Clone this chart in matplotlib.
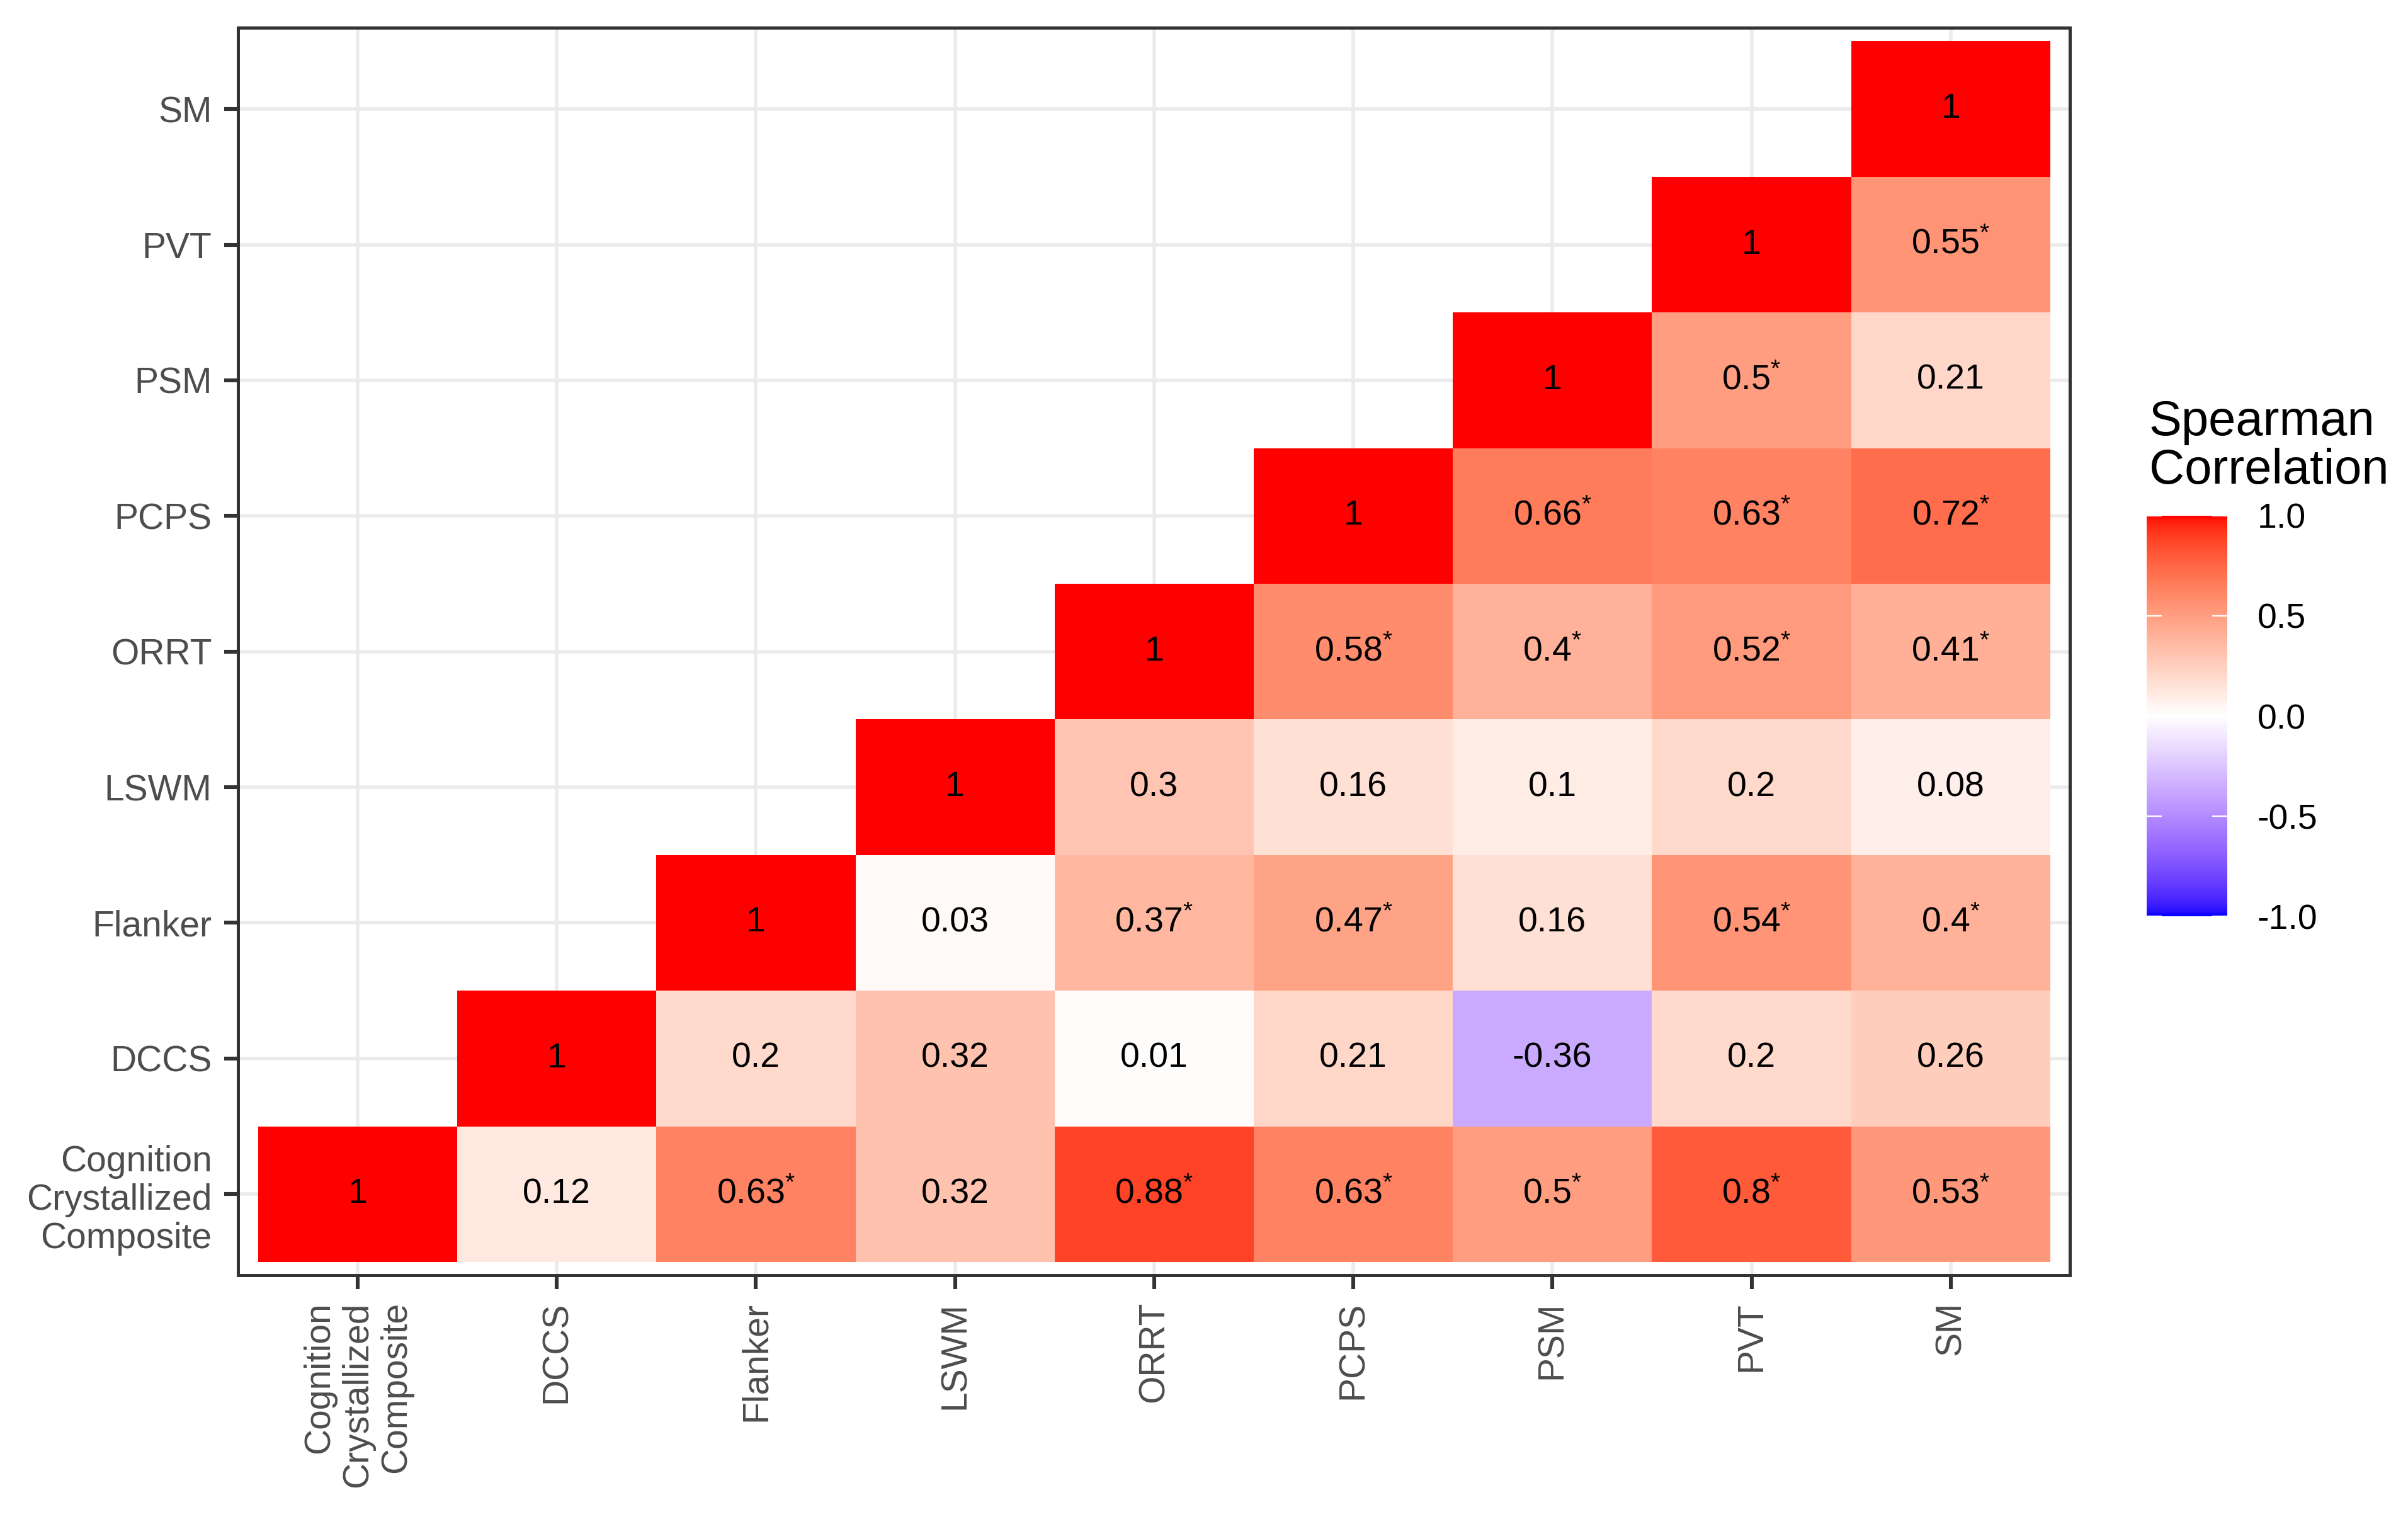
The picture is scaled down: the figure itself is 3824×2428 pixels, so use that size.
import numpy as np
import matplotlib
matplotlib.use("Agg")
import matplotlib.pyplot as plt
from matplotlib.colors import ListedColormap

plt.rcParams['font.family'] = ['Liberation Sans', 'DejaVu Sans']
plt.rcParams['mathtext.fontset'] = 'custom'
plt.rcParams['mathtext.rm'] = 'Liberation Sans'
plt.rcParams['mathtext.it'] = 'Liberation Sans:italic'
plt.rcParams['mathtext.bf'] = 'Liberation Sans:bold'

nan = np.nan

# measures, bottom to top / left to right
names = ["Cognition\nCrystallized\nComposite", "DCCS", "Flanker", "LSWM",
         "ORRT", "PCPS", "PSM", "PVT", "SM"]

# spearman rho, row = y measure, col = x measure (upper triangle only)
rho = [
    [1, 0.12, 0.63, 0.32, 0.88, 0.63, 0.5, 0.8, 0.53],
    [nan, 1, 0.2, 0.32, 0.01, 0.21, -0.36, 0.2, 0.26],
    [nan, nan, 1, 0.03, 0.37, 0.47, 0.16, 0.54, 0.4],
    [nan, nan, nan, 1, 0.3, 0.16, 0.1, 0.2, 0.08],
    [nan, nan, nan, nan, 1, 0.58, 0.4, 0.52, 0.41],
    [nan, nan, nan, nan, nan, 1, 0.66, 0.63, 0.72],
    [nan, nan, nan, nan, nan, nan, 1, 0.5, 0.21],
    [nan, nan, nan, nan, nan, nan, nan, 1, 0.55],
    [nan, nan, nan, nan, nan, nan, nan, nan, 1],
]

# significance flags (asterisk)
sig = [
    [0, 0, 1, 0, 1, 1, 1, 1, 1],
    [0, 0, 0, 0, 0, 0, 0, 0, 0],
    [0, 0, 0, 0, 1, 1, 0, 1, 1],
    [0, 0, 0, 0, 0, 0, 0, 0, 0],
    [0, 0, 0, 0, 0, 1, 1, 1, 1],
    [0, 0, 0, 0, 0, 0, 1, 1, 1],
    [0, 0, 0, 0, 0, 0, 0, 1, 0],
    [0, 0, 0, 0, 0, 0, 0, 0, 1],
    [0, 0, 0, 0, 0, 0, 0, 0, 0],
]

cbar_ticks = [-1.0, -0.5, 0.0, 0.5, 1.0]


# ggplot style gradient2 (blue - white - red), interpolated in CIELAB
M = np.array([[0.4124, 0.3576, 0.1805],
              [0.2126, 0.7152, 0.0722],
              [0.0193, 0.1192, 0.9505]])
Minv = np.linalg.inv(M)
WHITE = np.array([0.95047, 1.0, 1.08883])


def to_lab(rgb):
    c = np.asarray(rgb, float)
    lin = np.where(c <= 0.04045, c / 12.92, ((c + 0.055) / 1.055) ** 2.4)
    xyz = M @ lin / WHITE
    f = np.where(xyz > 0.008856, np.cbrt(xyz), 7.787 * xyz + 16 / 116)
    return np.array([116 * f[1] - 16, 500 * (f[0] - f[1]), 200 * (f[1] - f[2])])


def from_lab(lab):
    L, a, b = lab
    fy = (L + 16) / 116
    f = np.array([fy + a / 500, fy, fy - b / 200])
    xyz = np.where(f ** 3 > 0.008856, f ** 3, (f - 16 / 116) / 7.787) * WHITE
    lin = np.clip(Minv @ xyz, 0, None)
    c = np.where(lin <= 0.0031308, 12.92 * lin, 1.055 * lin ** (1 / 2.4) - 0.055)
    return np.clip(c, 0, 1)


low, mid, high = to_lab([0, 0, 1]), to_lab([1, 1, 1]), to_lab([1, 0, 0])
cols = []
for t in np.linspace(0, 1, 256):
    if t < 0.5:
        s = t / 0.5
        cols.append(from_lab(low + (mid - low) * s))
    else:
        s = (t - 0.5) / 0.5
        cols.append(from_lab(mid + (high - mid) * s))
cmap = ListedColormap(cols)

n = len(names)
fig = plt.figure(figsize=(19.12, 12.14), dpi=200)
ax = fig.add_axes([0.0989, 0.1658, 0.7608, 0.8161])

edges = np.arange(n + 1) - 0.5
mesh = ax.pcolormesh(edges, edges, np.ma.masked_invalid(np.array(rho)),
                     cmap=cmap, vmin=-1, vmax=1, zorder=2)

for i in range(n):
    for j in range(n):
        v = rho[i][j]
        if np.isnan(v):
            continue
        lab = f"{v:g}"
        if sig[i][j]:
            lab = lab + r"$^{*}$"
        ax.text(j, i, lab, ha='center', va='center', fontsize=20,
                color='black', zorder=3)

ax.set_xlim(-0.6, n - 0.4)
ax.set_ylim(-0.6, n - 0.4)
ax.set_xticks(range(n))
ax.set_yticks(range(n))
ax.set_xticklabels(names, rotation=90, ha='center', va='top',
                   multialignment='right', linespacing=1.17)
ax.set_yticklabels(names, multialignment='right', linespacing=1.17)
ax.set_axisbelow(True)
ax.grid(True, color='#EBEBEB', linewidth=2.0, zorder=0)
ax.tick_params(length=8, width=2.2, color='#333333', labelcolor='#4D4D4D',
               labelsize=20.5, pad=7)
for sp in ax.spines.values():
    sp.set_color('#333333')
    sp.set_linewidth(1.8)

# legend colourbar
cax = fig.add_axes([0.8915, 0.4007, 0.0335, 0.262])
cb = fig.colorbar(mesh, cax=cax, ticks=cbar_ticks)
cb.outline.set_visible(False)
cb.set_ticklabels([f"{t:.1f}" for t in cbar_ticks])
cax.tick_params(direction='in', length=8.6, width=0.8, color='white',
                left=True, right=True, labelsize=20, labelcolor='black', pad=17)
fig.text(0.8925, 0.6837, "Spearman\nCorrelation", ha='left', va='baseline',
         fontsize=28, color='black', linespacing=1.07)

fig.savefig("out.png", dpi=200, facecolor='white')
